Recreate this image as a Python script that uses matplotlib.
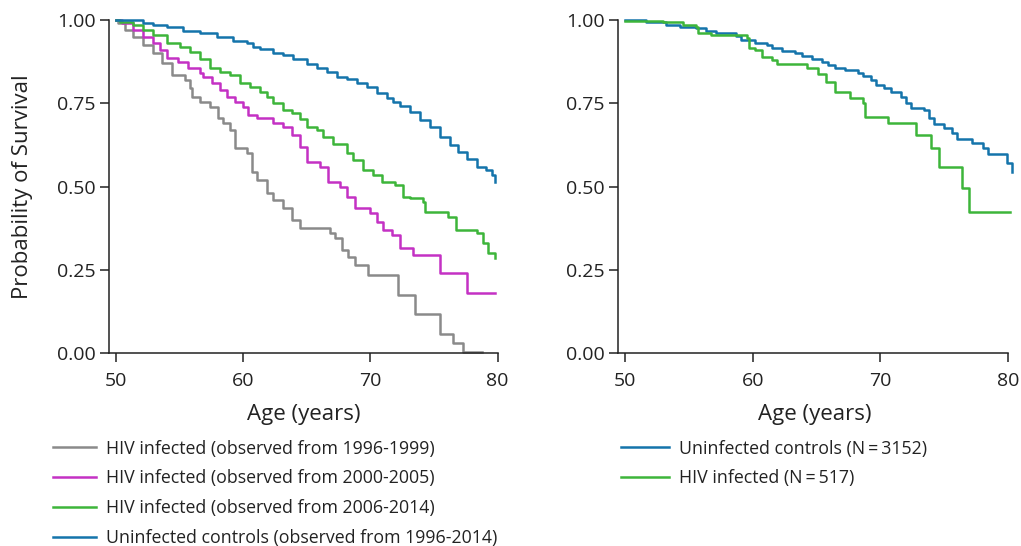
import matplotlib.pyplot as plt

plt.rcParams["font.family"] = ["Open Sans", "DejaVu Sans"]

# left panel: survival by calendar period
age_9699 = [50.0, 50.18, 50.71, 51.36, 52.15, 52.93, 53.59, 54.38, 55.42, 55.82, 55.95, 56.60,
            57.39, 58.04, 58.44, 58.96, 59.35, 60.27, 60.66, 61.06, 61.84, 62.37, 63.15, 63.81,
            64.46, 66.82, 67.21, 67.74, 68.26, 68.78, 69.83, 72.19, 73.50, 75.47, 76.51, 77.30, 78.74]
surv_9699 = [1.0, 0.990, 0.970, 0.950, 0.925, 0.900, 0.870, 0.835, 0.820, 0.795, 0.770, 0.755,
             0.740, 0.705, 0.690, 0.670, 0.615, 0.600, 0.545, 0.520, 0.480, 0.460, 0.435, 0.400,
             0.377, 0.360, 0.345, 0.310, 0.290, 0.265, 0.235, 0.175, 0.117, 0.057, 0.030, 0.005, 0.005]

age_0005 = [50.0, 50.45, 51.36, 52.15, 52.93, 53.46, 53.98, 54.90, 55.69, 56.60, 56.86, 57.52,
            58.17, 58.70, 59.35, 60.01, 60.40, 61.06, 62.37, 63.15, 63.81, 64.46, 64.99, 66.03,
            66.69, 67.61, 68.13, 68.78, 69.96, 70.49, 71.01, 71.67, 72.32, 73.37, 75.47, 77.56, 79.79]
surv_0005 = [1.0, 0.990, 0.970, 0.950, 0.930, 0.910, 0.885, 0.875, 0.855, 0.840, 0.828, 0.810,
             0.790, 0.770, 0.755, 0.738, 0.715, 0.705, 0.690, 0.680, 0.655, 0.620, 0.575, 0.560,
             0.515, 0.500, 0.470, 0.435, 0.420, 0.395, 0.370, 0.355, 0.315, 0.295, 0.240, 0.182, 0.182]

age_0614 = [50.0, 50.31, 51.36, 52.15, 52.93, 53.98, 55.03, 55.82, 56.60, 57.39, 58.17, 58.96,
            59.75, 60.53, 61.32, 61.84, 62.37, 63.15, 63.81, 64.46, 64.99, 65.77, 66.30, 67.08,
            68.13, 68.65, 69.44, 70.23, 70.88, 71.93, 72.58, 73.11, 74.15, 74.29, 76.12, 76.77,
            78.35, 78.87, 79.26, 79.79]
surv_0614 = [1.0, 0.995, 0.985, 0.970, 0.955, 0.930, 0.920, 0.905, 0.882, 0.855, 0.845, 0.835,
             0.812, 0.798, 0.785, 0.770, 0.750, 0.730, 0.720, 0.702, 0.678, 0.670, 0.650, 0.628,
             0.602, 0.580, 0.550, 0.535, 0.515, 0.505, 0.470, 0.465, 0.455, 0.425, 0.410, 0.370,
             0.360, 0.330, 0.300, 0.285]

age_ctrl = [50.0, 51.36, 52.15, 52.93, 53.98, 55.29, 56.60, 57.91, 59.22, 60.27, 60.79, 61.32,
            62.37, 63.15, 63.94, 64.99, 65.77, 66.56, 67.34, 68.13, 68.92, 69.70, 70.49, 71.27,
            71.80, 72.32, 73.11, 73.89, 74.68, 75.46, 76.25, 76.91, 77.56, 78.35, 79.13, 79.53, 79.79]
surv_ctrl = [1.0, 1.0, 0.992, 0.985, 0.978, 0.968, 0.960, 0.950, 0.938, 0.930, 0.920, 0.912,
             0.902, 0.895, 0.882, 0.868, 0.855, 0.845, 0.830, 0.822, 0.810, 0.798, 0.782, 0.765,
             0.755, 0.742, 0.725, 0.700, 0.680, 0.650, 0.625, 0.605, 0.582, 0.560, 0.550, 0.535, 0.515]

# right panel: matched comparison
age_r_ctrl = [50.0, 51.68, 53.23, 54.27, 55.56, 56.34, 57.11, 58.66, 59.05, 60.21, 61.12, 61.51,
              62.28, 63.32, 63.84, 64.61, 65.39, 65.90, 66.42, 67.20, 68.23, 68.62, 69.27, 69.65,
              70.30, 70.82, 71.59, 71.98, 72.37, 73.40, 73.79, 74.18, 74.95, 75.60, 75.99, 77.15,
              78.06, 78.45, 79.87, 80.26]
surv_r_ctrl = [1.0, 0.995, 0.985, 0.978, 0.975, 0.968, 0.960, 0.952, 0.940, 0.930, 0.925, 0.915,
               0.908, 0.902, 0.892, 0.882, 0.875, 0.865, 0.855, 0.850, 0.842, 0.832, 0.820, 0.805,
               0.795, 0.785, 0.770, 0.750, 0.735, 0.730, 0.705, 0.688, 0.675, 0.660, 0.642, 0.630,
               0.615, 0.598, 0.572, 0.545]

age_r_hiv = [50.0, 52.97, 54.53, 55.56, 55.69, 56.72, 58.66, 59.57, 59.70, 60.21, 60.73, 61.51,
             61.90, 63.32, 64.22, 65.13, 65.77, 66.42, 67.58, 68.62, 68.75, 70.56, 72.76, 73.92,
             74.57, 76.38, 76.90, 80.13]
surv_r_hiv = [0.998, 0.995, 0.985, 0.978, 0.962, 0.955, 0.955, 0.945, 0.915, 0.910, 0.890, 0.880,
              0.868, 0.868, 0.855, 0.838, 0.815, 0.785, 0.765, 0.750, 0.710, 0.690, 0.655, 0.615,
              0.560, 0.495, 0.425, 0.425]

x_ticks = [50, 60, 70, 80]
y_ticks = [0.0, 0.25, 0.5, 0.75, 1.0]

GRAY = "#8a8a8a"
MAGENTA = "#c431c4"
GREEN = "#3db53a"
BLUE = "#1474ab"
INK = "#222222"

fig = plt.figure(figsize=(10.21, 5.46), dpi=100)
ax1 = fig.add_axes([0.1068, 0.3529, 0.3805, 0.6105])
ax2 = fig.add_axes([0.6053, 0.3529, 0.3859, 0.6105])

lw = 1.8
ax1.plot(age_9699, surv_9699, drawstyle="steps-post", color=GRAY, lw=lw, clip_on=False,
         label="HIV infected (observed from 1996-1999)")
ax1.plot(age_0005, surv_0005, drawstyle="steps-post", color=MAGENTA, lw=lw, clip_on=False,
         label="HIV infected (observed from 2000-2005)")
ax1.plot(age_0614, surv_0614, drawstyle="steps-post", color=GREEN, lw=lw, clip_on=False,
         label="HIV infected (observed from 2006-2014)")
ax1.plot(age_ctrl, surv_ctrl, drawstyle="steps-post", color=BLUE, lw=lw, clip_on=False,
         label="Uninfected controls (observed from 1996-2014)")

ax2.plot(age_r_ctrl, surv_r_ctrl, drawstyle="steps-post", color=BLUE, lw=lw, clip_on=False,
         label="Uninfected controls (N\u2009=\u20093152)")
ax2.plot(age_r_hiv, surv_r_hiv, drawstyle="steps-post", color=GREEN, lw=lw, clip_on=False,
         label="HIV infected (N\u2009=\u2009517)")

for ax, xmax in [(ax1, 80.0), (ax2, 80.3)]:
    ax.set_xlim(49.45, xmax)
    ax.set_ylim(0, 1)
    ax.set_xticks(x_ticks)
    ax.set_yticks(y_ticks)
    ax.set_yticklabels([f"{v:.2f}" for v in y_ticks])
    ax.spines["top"].set_visible(False)
    ax.spines["right"].set_visible(False)
    ax.spines["bottom"].set_bounds(49.45, 80)
    for s in ("left", "bottom"):
        ax.spines[s].set_linewidth(1.1)
        ax.spines[s].set_color(INK)
    ax.tick_params(axis="both", labelsize=14, length=6.5, width=1.1, color=INK,
                   labelcolor=INK)
    ax.tick_params(axis="x", pad=7)
    ax.tick_params(axis="y", pad=3)
    ax.set_xlabel("Age (years)", fontsize=16, color=INK, labelpad=10)

ax1.set_ylabel("Probability of Survival", fontsize=16, color=INK, labelpad=17)

leg_kw = dict(loc="upper left", bbox_transform=fig.transFigure, frameon=False, fontsize=12.8,
              handlelength=2.4, handletextpad=0.55, labelspacing=0.66, borderpad=0,
              borderaxespad=0, labelcolor=INK)
ax1.legend(bbox_to_anchor=(0.052, 0.195), **leg_kw)
ax2.legend(bbox_to_anchor=(0.608, 0.195), handlelength=2.7, **{k: v for k, v in leg_kw.items()
                                                               if k != "handlelength"})

fig.savefig("out.png", dpi=100)
